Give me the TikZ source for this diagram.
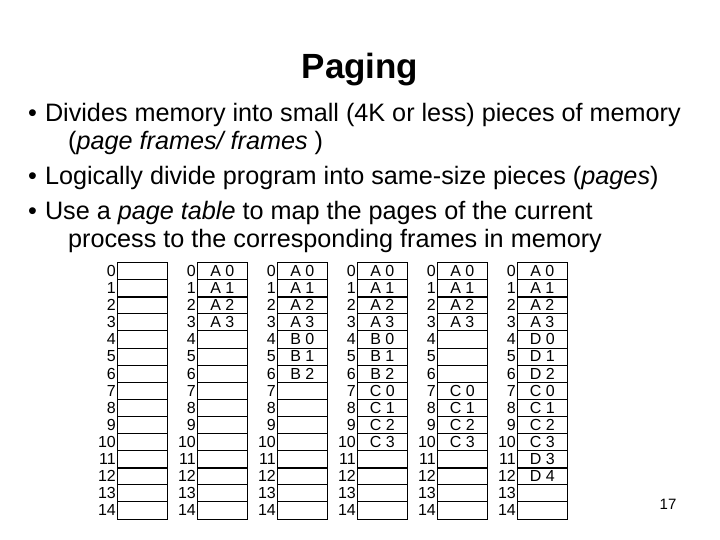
\documentclass[tikz,border=0pt]{standalone}
\usepackage{fontspec}
\setmainfont{Liberation Sans}
\begin{document}
\begin{tikzpicture}[x=1pt,y=-1pt,
  cell/.style={draw,line width=0.7pt,minimum width=50pt,minimum height=17.1pt,inner sep=0pt,anchor=north west,font=\fontsize{16}{16}\selectfont},
  num/.style={anchor=east,inner sep=1pt,font=\fontsize{16}{16}\selectfont},
  btxt/.style={anchor=west,inner sep=0pt,align=left,font=\fontsize{25.2}{28}\selectfont}]
\useasboundingbox (0,0) rectangle (720,540);
\node[font=\fontsize{35}{38}\selectfont\bfseries] (title) at (360,70) {Paging};
\node[btxt] (b1) at (28,115) {•\hspace{8pt}Divides memory into small (4K or less) pieces of memory};
\node[btxt] (b1b) at (68,143) {(\textit{page frames/ frames} )};
\node[btxt] (b2) at (28,178) {•\hspace{8pt}Logically divide program into same-size pieces (\textit{pages})};
\node[btxt] (b3) at (28,213) {•\hspace{8pt}Use a \textit{page table} to map the pages of the current};
\node[btxt] (b3b) at (68,241) {process to the corresponding frames in memory};
\node[font=\fontsize{15}{15}\selectfont] (pg) at (668,504) {17};
\foreach \c/\labs in {0/{,,,,,,,,,,,,,,},
  1/{A 0,A 1,A 2,A 3,,,,,,,,,,,},
  2/{A 0,A 1,A 2,A 3,B 0,B 1,B 2,,,,,,,,},
  3/{A 0,A 1,A 2,A 3,B 0,B 1,B 2,C 0,C 1,C 2,C 3,,,,},
  4/{A 0,A 1,A 2,A 3,,,,C 0,C 1,C 2,C 3,,,,},
  5/{A 0,A 1,A 2,A 3,D 0,D 1,D 2,C 0,C 1,C 2,C 3,D 3,D 4,,}}{
  \foreach \l [count=\i from 0] in \labs {
    \node[cell] (c\c r\i) at ({117+80*\c},{262+17.1*\i}) {\l};
    \node[num] (n\c r\i) at (c\c r\i.west) {\i};
  }
  \foreach \r in {1,6,11}{\draw[line width=1.8pt] (c\c r\r.south west) -- (c\c r\r.south east);}
}
\end{tikzpicture}
\end{document}
